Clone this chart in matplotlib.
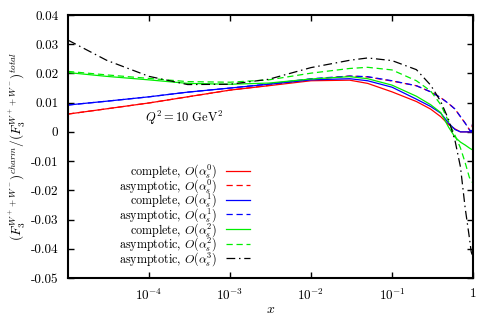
import numpy as np
import matplotlib.pyplot as plt

plt.rcParams['font.family'] = 'cmr10'
plt.rcParams['mathtext.fontset'] = 'cm'
plt.rcParams['axes.unicode_minus'] = False

# x grid
x = np.array([1e-5, 3e-5, 1e-4, 3e-4, 1e-3, 3e-3, 1e-2, 3e-2, 0.05, 0.1,
              0.2, 0.3, 0.4, 0.5, 0.6, 0.7, 0.8, 0.9, 0.95, 1.0])

red_c = np.array([0.0061, 0.0079, 0.0099, 0.0120, 0.0143, 0.0158, 0.0175, 0.0177, 0.0166, 0.0137,
                  0.0104, 0.0078, 0.0052, 0.0025, 0.0010, 0.0, 0.0, 0.0, 0.0, 0.0])
red_a = np.array([0.0061, 0.0079, 0.0099, 0.0120, 0.0143, 0.0159, 0.0180, 0.0191, 0.0188, 0.0174,
                  0.0158, 0.0137, 0.0117, 0.0097, 0.0078, 0.0052, 0.0030, 0.0008, 0.0, 0.0035])
blue_c = np.array([0.0092, 0.0105, 0.0120, 0.0136, 0.0150, 0.0163, 0.0178, 0.0182, 0.0175, 0.0153,
                   0.0112, 0.0087, 0.0064, 0.0030, 0.0008, 0.0, 0.0, 0.0, 0.0, 0.0])
blue_a = np.array([0.0092, 0.0105, 0.0120, 0.0136, 0.0150, 0.0164, 0.0182, 0.0191, 0.0189, 0.0175,
                   0.0158, 0.0137, 0.0117, 0.0097, 0.0078, 0.0052, 0.0030, 0.0008, 0.0, 0.0035])
green_c = np.array([0.0203, 0.0190, 0.0178, 0.0166, 0.0163, 0.0167, 0.0181, 0.0189, 0.0182, 0.0160,
                    0.0122, 0.0093, 0.0066, 0.0016, -0.0018, -0.0035, -0.0045, -0.0055, -0.0059, -0.0062])
green_a = np.array([0.0207, 0.0195, 0.0183, 0.0172, 0.0170, 0.0178, 0.0201, 0.0217, 0.0221, 0.0212,
                    0.0175, 0.0140, 0.0093, 0.0035, -0.0012, -0.0055, -0.0105, -0.0155, -0.0168, -0.0175])
black_a = np.array([0.0314, 0.0245, 0.0190, 0.0162, 0.0163, 0.0180, 0.0220, 0.0245, 0.0253, 0.0244,
                    0.0213, 0.0160, 0.0104, 0.0042, -0.0030, -0.0120, -0.0260, -0.0360, -0.0410, -0.0430])

labels = [r'complete, $O(\alpha_s^0)$', r'asymptotic, $O(\alpha_s^0)$',
          r'complete, $O(\alpha_s^1)$', r'asymptotic, $O(\alpha_s^1)$',
          r'complete, $O(\alpha_s^2)$', r'asymptotic, $O(\alpha_s^2)$',
          r'asymptotic, $O(\alpha_s^3)$']

fig = plt.figure(figsize=(4.96, 3.19), dpi=100)
ax = fig.add_axes([68/496, 1 - 278/319, (473 - 68)/496, (278 - 15)/319])

lw = 0.9
ax.plot(x, red_c, color='#ff0000', lw=lw, label=labels[0])
ax.plot(x, red_a, color='#ff0000', lw=lw, ls=(0, (5, 3)), label=labels[1])
ax.plot(x, blue_c, color='#0000ff', lw=lw, label=labels[2])
ax.plot(x, blue_a, color='#0000ff', lw=lw, ls=(0, (5, 3)), label=labels[3])
ax.plot(x, green_c, color='#00ee00', lw=lw, label=labels[4])
ax.plot(x, green_a, color='#00ee00', lw=lw, ls=(0, (5, 3)), label=labels[5])
ax.plot(x, black_a, color='black', lw=lw, ls=(0, (7, 3, 1.2, 3)), label=labels[6])

ax.set_xscale('log')
ax.set_xlim(1e-5, 1)
ax.set_ylim(-0.05, 0.04)

yt = [0.04, 0.03, 0.02, 0.01, 0, -0.01, -0.02, -0.03, -0.04, -0.05]
ytl = ['0.04', '0.03', '0.02', '0.01', '0', '-0.01', '-0.02', '-0.03', '-0.04', '-0.05']
ax.set_yticks(yt)
ax.set_yticklabels(ytl)
xt = [1e-4, 1e-3, 1e-2, 1e-1, 1]
xtl = [r'$10^{-4}$', r'$10^{-3}$', r'$10^{-2}$', r'$10^{-1}$', '1']
ax.set_xticks(xt)
ax.set_xticklabels(xtl)
ax.minorticks_off()
ax.tick_params(direction='in', length=4, width=1, top=True, right=True, labelsize=9.5, pad=7)
for s in ax.spines.values():
    s.set_linewidth(1.5)

ax.set_xlabel(r'$x$', fontsize=10)
ax.xaxis.set_label_coords(0.5, -0.1)
ax.set_ylabel(r'$(F_3^{W^+ + W^-})^{charm}/(F_3^{W^+ + W^-})^{total}$', fontsize=9.5)
ax.yaxis.set_label_coords(-0.1, 0.5)

ax.text(184, 319 - 118, r'$Q^2 = 10\ \mathrm{GeV}^2$', transform=None, fontsize=9,
        ha='center', va='center')

leg = ax.legend(loc='lower right', bbox_to_anchor=(250/496, 1 - 268/319),
                bbox_transform=fig.transFigure, frameon=False, markerfirst=False,
                fontsize=8.7, handlelength=2.0, handletextpad=0.7, labelspacing=-0.26,
                borderpad=0, borderaxespad=0)

fig.savefig('out.png', dpi=100)
